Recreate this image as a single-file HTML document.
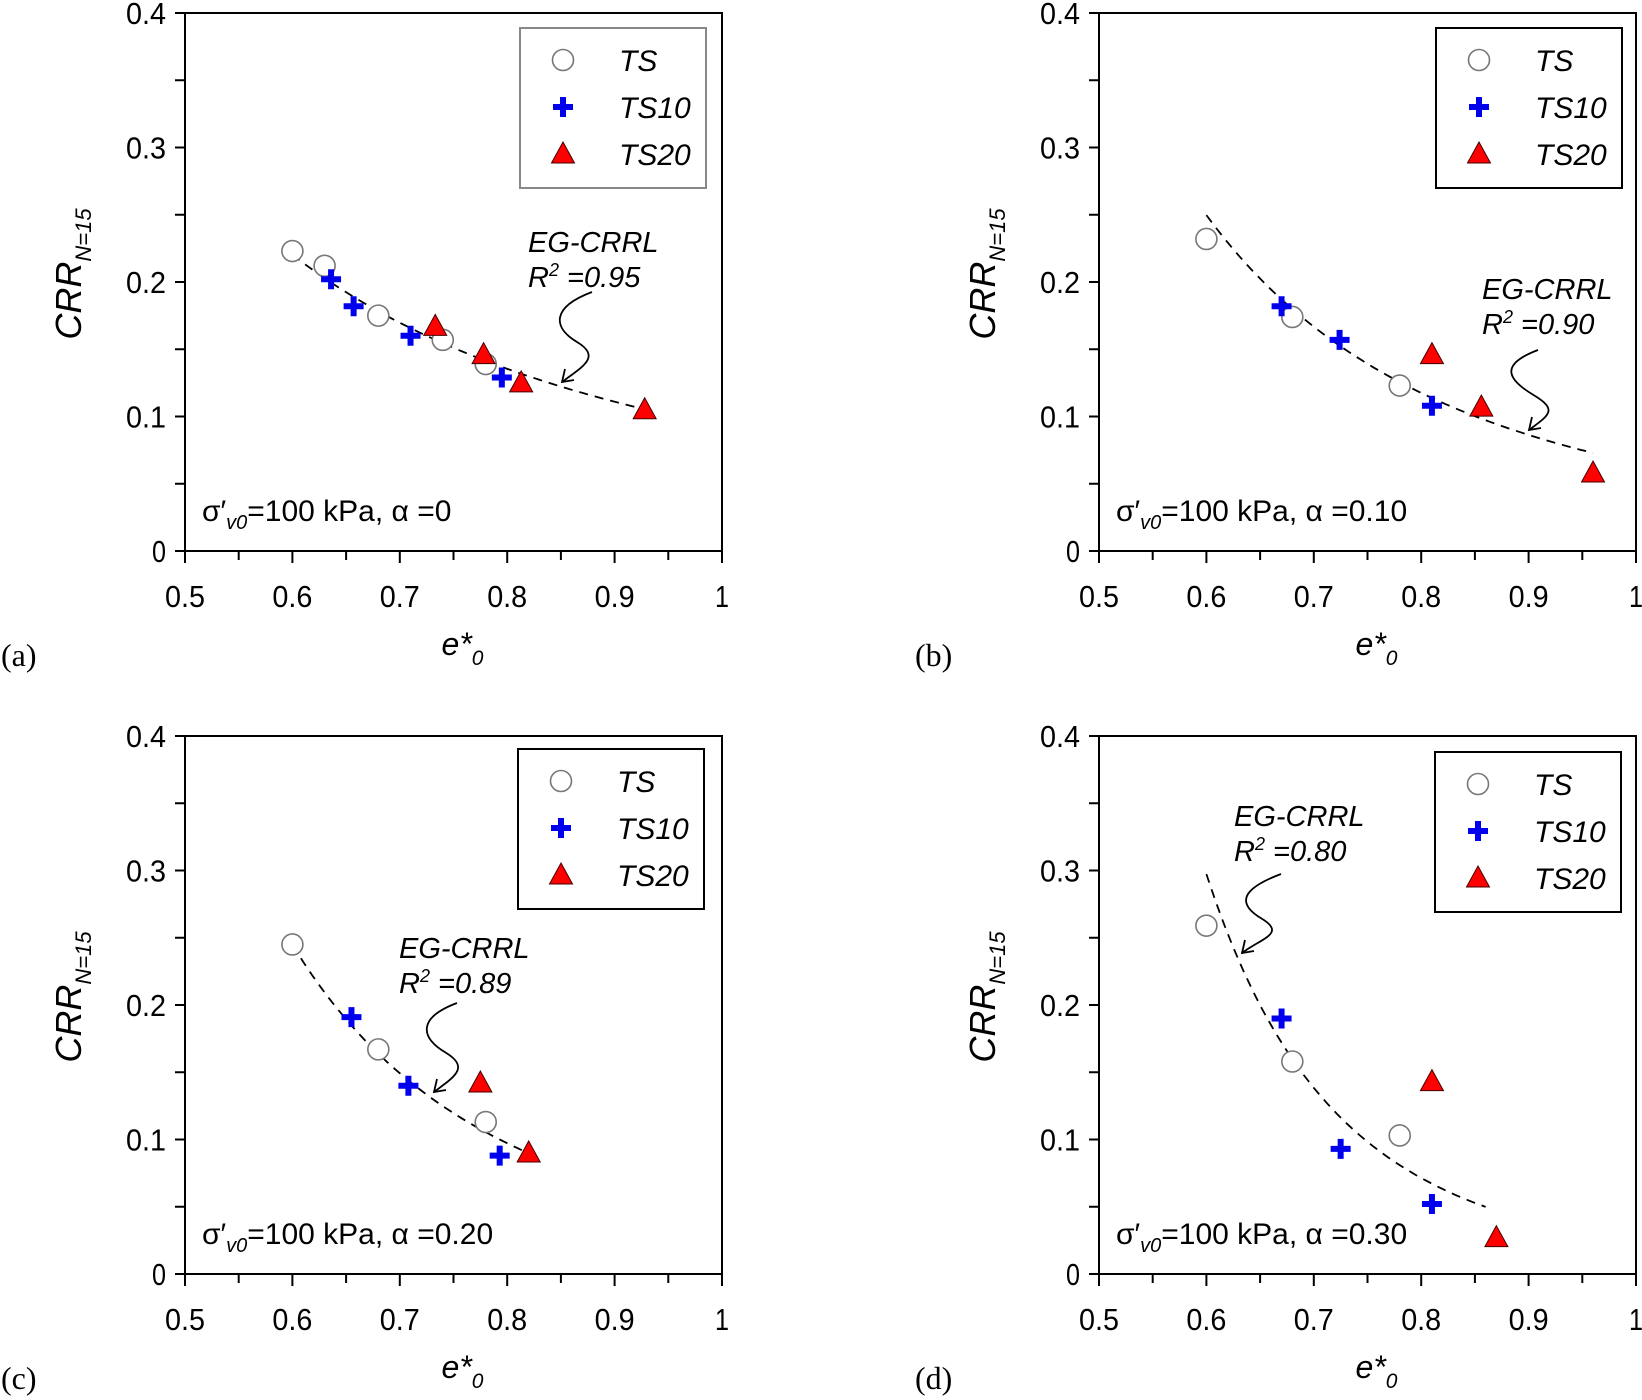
<!DOCTYPE html>
<html><head><meta charset="utf-8"><style>
html,body{margin:0;padding:0;background:#fff;}
svg{display:block;font-family:"Liberation Sans",Arial,sans-serif;}
</style></head>
<body>
<svg id="fig" width="1642" height="1400" viewBox="0 0 1642 1400" xmlns="http://www.w3.org/2000/svg"></svg>
<script>
// ---- data ----
const panelIds = ['a','b','c','d'];
const alphaLabels = ['0','0.10','0.20','0.30'];
const r2Labels = ['0.95','0.90','0.89','0.80'];
const tsX = [[0.6,0.63,0.68,0.74,0.78],[0.6,0.68,0.78],[0.6,0.68,0.78],[0.6,0.68,0.78]];
const tsY = [[0.223,0.212,0.175,0.157,0.139],[0.232,0.174,0.123],[0.245,0.167,0.113],[0.259,0.158,0.103]];
const ts10X = [[0.636,0.657,0.71,0.795],[0.67,0.724,0.81],[0.655,0.708,0.793],[0.67,0.725,0.81]];
const ts10Y = [[0.202,0.182,0.16,0.129],[0.182,0.157,0.108],[0.191,0.14,0.088],[0.19,0.093,0.052]];
const ts20X = [[0.733,0.778,0.813,0.928],[0.81,0.856,0.96],[0.775,0.82],[0.81,0.87]];
const ts20Y = [[0.167,0.146,0.125,0.105],[0.146,0.107,0.058],[0.142,0.09],[0.143,0.027]];
const fitA = [0.0929,0.0655,0.0475,0.0236];
const fitB = [-1.69,-2.62,-3.21,-4.96];
const fitRange = [[0.6,0.925],[0.6,0.96],[0.6,0.82],[0.6,0.86]];
const xTicks = [0.5,0.6,0.7,0.8,0.9,1];
const xTickLabels = ['0.5','0.6','0.7','0.8','0.9','1'];
const yTicks = [0,0.1,0.2,0.3,0.4];
const yTickLabels = ['0','0.1','0.2','0.3','0.4'];

// ---- layout ----
const NS='http://www.w3.org/2000/svg';
const svg=document.getElementById('fig');
const lay=[{l:185,r:722,t:13,b:551},{l:1099,r:1636,t:13,b:551},{l:185,r:722,t:736,b:1274},{l:1099,r:1636,t:736,b:1274}];
const legPos=[{x:520,y:28,stroke:'#888'},{x:1436,y:28,stroke:'#000'},{x:518,y:749,stroke:'#000'},{x:1435,y:752,stroke:'#000'}];
const annPos=[{x:528,y:252,ax:592,ay:292,tx:562,ty:382},{x:1482,y:299,ax:1538,ay:350,tx:1529,ty:430},{x:399,y:958,ax:457,ay:1003,tx:434,ty:1092},{x:1234,y:826,ax:1281,ay:874,tx:1242,ty:953}];
function el(tag,attrs,parent,text){const e=document.createElementNS(NS,tag);for(const k in attrs)e.setAttribute(k,attrs[k]);if(text!==undefined)e.textContent=text;(parent||svg).appendChild(e);return e;}
function circ(g,x,y){return el('circle',{cx:x,cy:y,r:10.5,fill:'#fff',stroke:'#777','stroke-width':1.6},g);}
function plus(g,x,y){return el('path',{d:`M${x-10},${y}H${x+10}M${x},${y-10}V${y+10}`,stroke:'#0000ee','stroke-width':6,fill:'none'},g);}
function tri(g,x,y){return el('path',{d:`M${x},${y-12}L${x+11.5},${y+9}L${x-11.5},${y+9}Z`,fill:'#f00',stroke:'#400','stroke-width':1},g);}

panelIds.forEach((id,i)=>{
  const L=lay[i];
  const sx=v=>L.l+(v-0.5)/0.5*(L.r-L.l);
  const sy=v=>L.b-v/0.4*(L.b-L.t);
  const g=el('g',{});
  
  
  const frame=el('rect',{x:L.l,y:L.t,width:L.r-L.l,height:L.b-L.t,fill:'none',stroke:'#000','stroke-width':2},g);
  
  
  for(let k=0;k<=10;k++){const v=0.5+k*0.05;const x=sx(v);
    el('line',{x1:x,y1:L.b,x2:x,y2:L.b+(k%2==0?12:9),stroke:'#000','stroke-width':2},g);}
  xTicks.forEach((v,k)=>{const t=el('text',{x:sx(v),y:L.b+56,'font-size':31,'text-anchor':'middle',textLength:xTickLabels[k].length>1?40:14,lengthAdjust:'spacingAndGlyphs'},g,xTickLabels[k]);
    
    });
  for(let k=0;k<=8;k++){const y=sy(k*0.05);
    el('line',{x1:L.l-10,y1:y,x2:L.l,y2:y,stroke:'#000','stroke-width':2},g);}
  yTicks.forEach((v,k)=>{const t=el('text',{x:L.l-19,y:sy(v)+11,'font-size':31,'text-anchor':'end',textLength:yTickLabels[k].length>1?40:14,lengthAdjust:'spacingAndGlyphs'},g,yTickLabels[k]);
    
    });
  const yt=el('text',{transform:`translate(${L.l-104},${(L.t+L.b)/2-8}) rotate(-90)`,'font-size':36,'font-style':'italic','text-anchor':'middle'},g);
  
  
  el('tspan',{},yt,'CRR');el('tspan',{'font-size':22,dy:10},yt,'N=15');
  const xt=el('text',{x:(L.l+L.r)/2+9,y:L.b+104,'font-size':32,'font-style':'italic','text-anchor':'middle'},g);
  
  
  el('tspan',{},xt,'e*');el('tspan',{'font-size':21,dy:10},xt,'0');
  const pl=el('text',{x:L.l-184,y:L.b+115,'font-size':32,'font-family':'Liberation Serif, serif'},g,'('+id+')');
  
  
  let d='';const [x0,x1]=fitRange[i];
  for(let k=0;k<=60;k++){const v=x0+(x1-x0)*k/60;const y=fitA[i]*Math.pow(v,fitB[i]);d+=(k?'L':'M')+sx(v).toFixed(1)+','+sy(y).toFixed(1);}
  const fc=el('path',{d:d,fill:'none',stroke:'#000','stroke-width':1.8,'stroke-dasharray':'9,7'},g);
  
  
  tsX[i].forEach((v,k)=>{const m=circ(g,sx(v),sy(tsY[i][k]));
    
    });
  ts10X[i].forEach((v,k)=>{const m=plus(g,sx(v),sy(ts10Y[i][k]));
    
    });
  ts20X[i].forEach((v,k)=>{const m=tri(g,sx(v),sy(ts20Y[i][k]));
    
    });
  const A=annPos[i];
  const at=el('text',{x:A.x,y:A.y,'font-size':29,'font-style':'italic'},g);
  
  
  el('tspan',{x:A.x},at,'EG-CRRL');
  el('tspan',{x:A.x,dy:35},at,'R');el('tspan',{'font-size':18,dy:-11},at,'2');el('tspan',{dy:11},at,' =0.'+r2Labels[i].slice(2));
  const mx=(A.ax+A.tx)/2;
  const ap=el('path',{d:`M${A.ax},${A.ay} C${A.ax-40},${A.ay+15} ${mx-25},${(A.ay+A.ty)/2-10} ${mx},${(A.ay+A.ty)/2+5} S${A.tx+20},${A.ty-15} ${A.tx},${A.ty}`,fill:'none',stroke:'#000','stroke-width':1.8},g);
  
  
  el('path',{d:`M${A.tx+12},${A.ty-2}L${A.tx},${A.ty}L${A.tx+3},${A.ty-13}`,fill:'none',stroke:'#000','stroke-width':1.8},g);
  const ct=el('text',{x:L.l+17,y:L.b-30,'font-size':30},g);
  
  
  el('tspan',{},ct,'σ′');el('tspan',{'font-size':20,'font-style':'italic',dy:8},ct,'v0');el('tspan',{dy:-8},ct,'=100 kPa, α =');el('tspan',{},ct,alphaLabels[i]);
  const P=legPos[i];
  const lg=el('g',{},g);
  
  
  el('rect',{x:P.x,y:P.y,width:186,height:160,fill:'#fff',stroke:P.stroke,'stroke-width':2},lg);
  const names=['TS','TS10','TS20'];const fns=[circ,plus,tri];
  names.forEach((n,k)=>{const y=P.y+32+k*47;
    const e=el('g',{},lg);
    
    
    fns[k](e,P.x+43,y);
    el('text',{x:P.x+99,y:y+11,'font-size':30,'font-style':'italic'},e,n);});
});
</script>
</body></html>
